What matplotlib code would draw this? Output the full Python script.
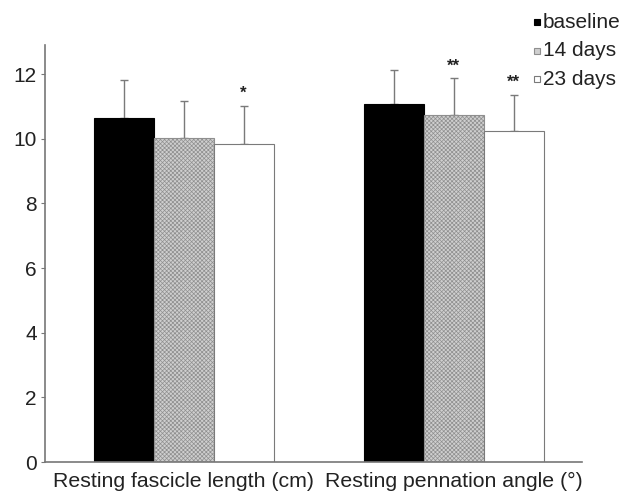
import matplotlib
matplotlib.use("Agg")
import matplotlib.pyplot as plt
import numpy as np

plt.rcParams['font.family'] = ['Liberation Sans', 'DejaVu Sans']
plt.rcParams['hatch.linewidth'] = 0.5

categories = ["Resting fascicle length (cm)", "Resting pennation angle (°)"]
series = ["baseline", "14 days", "23 days"]
means = {
    "baseline": [10.65, 11.09],
    "14 days": [10.02, 10.72],
    "23 days": [9.83, 10.25],
}
errors = {
    "baseline": [1.17, 1.03],
    "14 days": [1.16, 1.15],
    "23 days": [1.18, 1.10],
}
stars = {
    "baseline": ["", ""],
    "14 days": ["", "**"],
    "23 days": ["*", "**"],
}
yticks = [0, 2, 4, 6, 8, 10, 12]

fig = plt.figure(figsize=(6.36, 4.92), dpi=100)
ax = fig.add_axes([45/636, 30/492, 537/636, (462-45)/492])

centers = np.array([2.31, 6.81])
width = 1.0
styles = {
    "baseline": dict(facecolor="black", edgecolor="black", hatch=None),
    "14 days": dict(facecolor="#cfcfcf", edgecolor="#8f8f8f", hatch="xxxxxxxx"),
    "23 days": dict(facecolor="white", edgecolor="#7a7a7a", hatch=None),
}
for i, s in enumerate(series):
    x = centers + (i - 1) * width
    st = styles[s]
    ax.bar(x, means[s], width=width, facecolor=st["facecolor"],
           edgecolor=st["edgecolor"], hatch=st["hatch"], linewidth=0.8, zorder=2)
    ax.errorbar(x, means[s], yerr=[np.zeros(2), errors[s]], fmt="none",
                ecolor="#7a7a7a", elinewidth=1.0, capsize=3, capthick=1.0, zorder=1)
    for xi, m, e, t in zip(x, means[s], errors[s], stars[s]):
        if t:
            ax.text(xi, m + e + 0.15, t, ha="center", va="bottom", fontsize=12,
                    fontweight="bold", color="#222222")

ax.set_xlim(0, 537/60)
ax.set_ylim(0, 12.9)
ax.set_yticks(yticks)
ax.set_xticks(centers)
ax.set_xticklabels(categories, fontsize=15.3, color="#222222")
ax.tick_params(axis="x", length=0, pad=7)
ax.tick_params(axis="y", length=3, width=0.8, color="#777777", labelsize=15,
               labelcolor="#222222", pad=3)
for sp in ["top", "right"]:
    ax.spines[sp].set_visible(False)
for sp in ["left", "bottom"]:
    ax.spines[sp].set_color("#777777")
    ax.spines[sp].set_linewidth(1.2)

# legend
leg_y = [22, 51, 79]
for s, yy in zip(series, leg_y):
    st = styles[s]
    fy = 1 - yy / 492
    fig.patches.append(plt.Rectangle((534/636, fy - 3/492), 6/636, 6/492,
                                     transform=fig.transFigure, facecolor=st["facecolor"],
                                     edgecolor=st["edgecolor"] if s != "baseline" else "black",
                                     linewidth=0.8))
    fig.text(543/636, fy, s, ha="left", va="center", fontsize=15, color="#222222")

fig.savefig("out.png", dpi=100)
